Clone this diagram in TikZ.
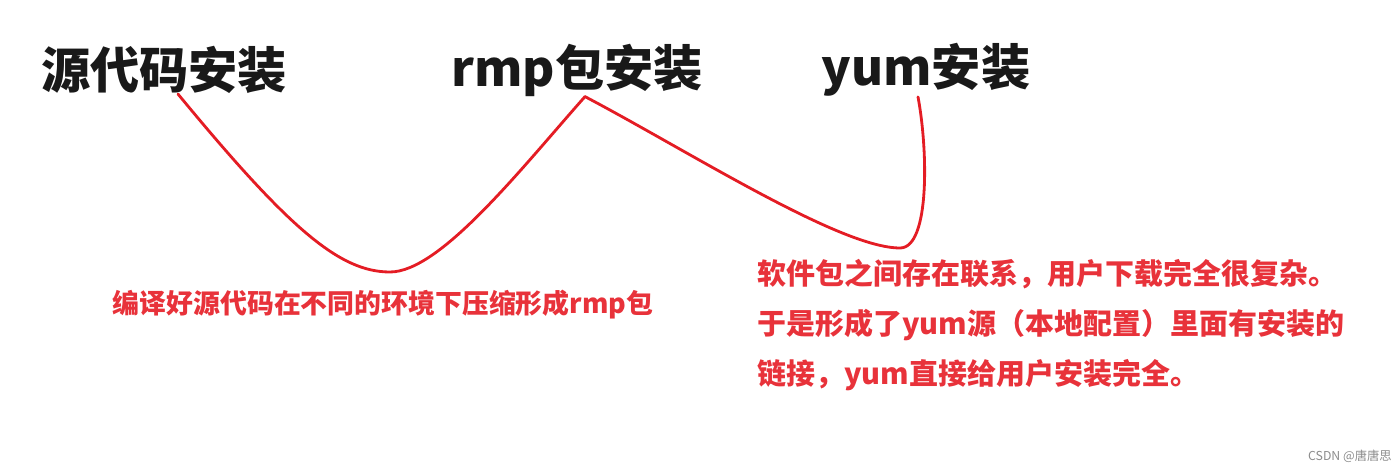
\documentclass[tikz,border=0pt]{standalone}
\usepackage{fontspec}
\newfontfamily\cjk{Noto Sans CJK SC}
\usetikzlibrary{positioning,calc}
\definecolor{noteRed}{RGB}{232,50,58}
\definecolor{lineRed}{RGB}{228,28,36}

\begin{document}
\begin{tikzpicture}[
        x=0.02cm, y=0.02cm,
        title/.style={inner sep=0pt, text=black!90, font=\cjk\bfseries\fontsize{28}{30}\selectfont},
        note/.style={inner sep=0pt, align=left, text=noteRed, font=\cjk\bfseries\fontsize{16.5}{28.5}\selectfont},
        credit/.style={inner sep=0pt, text=black!45, font=\cjk\fontsize{7}{8}\selectfont},
        link/.style={draw=lineRed, line width=1.6pt, line cap=round}
    ]
        \useasboundingbox (0,0) rectangle (1400,470);

        % 三种安装方式
        \node[title] (src) at (164,400) {源代码安装};
        \node[title] (rpm) at (577,400) {rmp包安装};
        \node[title] (yum) at (926,400) {yum安装};

        % 说明
        \node[note, font=\cjk\bfseries\fontsize{15.3}{18}\selectfont] (pack) at (383,165) {编译好源代码在不同的环境下压缩形成rmp包};
        \node[note, anchor=north west] (repo) at (757,211)
            {软件包之间存在联系，用户下载完全很复杂。\\
             于是形成了yum源（本地配置）里面有安装的\\
             链接，yum直接给用户安装完全。};
        \node[credit, anchor=east] (sign) at (1392,14) {CSDN @唐唐思};

        % 连线
        \coordinate (dip1) at (390,198);
        \coordinate (dip2) at (900,222);
        \draw[link] ([xshift=0.28cm]src.south) .. controls (290,240) and (340,198) .. (dip1)
            .. controls (440,198) and (520,300) .. ([xshift=0.16cm]rpm.south);
        \draw[link] ([xshift=0.16cm]rpm.south) .. controls (690,318) and (840,222) .. (dip2)
            .. controls (930,222) and (928,320) .. ([xshift=-0.16cm]yum.south);

    \end{tikzpicture}
\end{document}
